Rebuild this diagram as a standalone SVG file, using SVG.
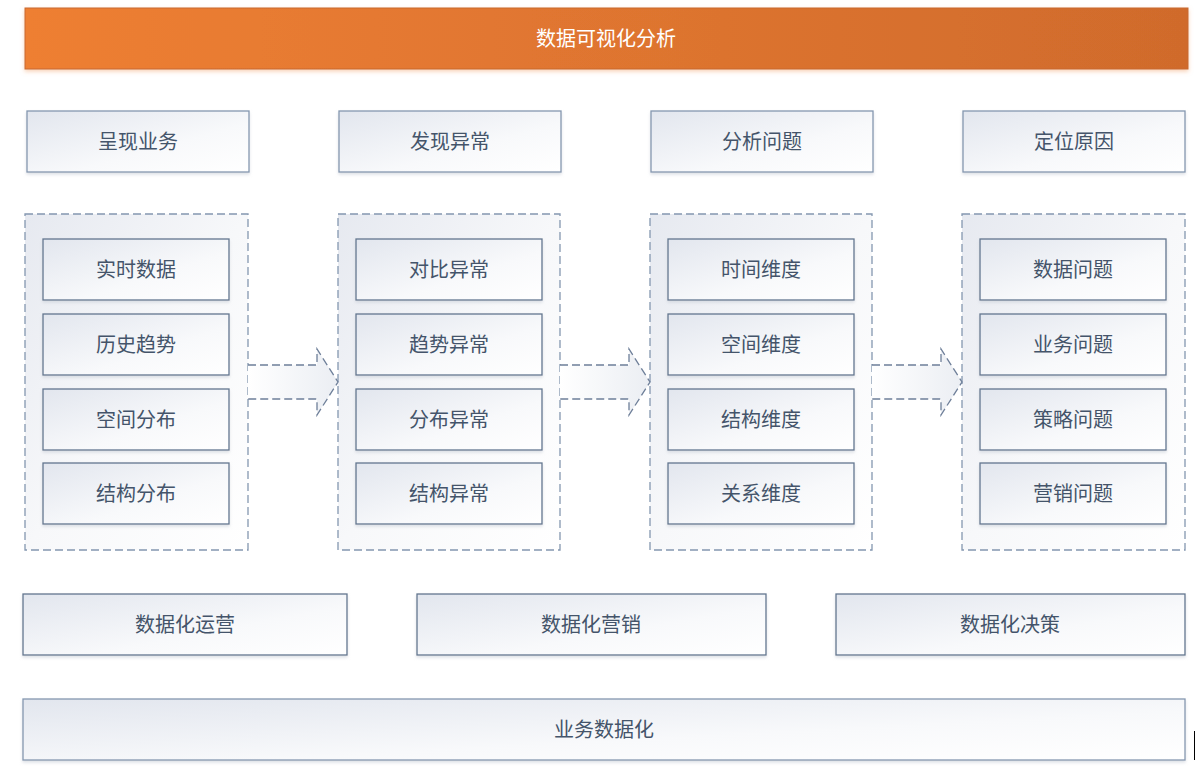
<svg xmlns="http://www.w3.org/2000/svg" width="1203" height="768" viewBox="0 0 1203 768">
  <defs>
    <linearGradient id="gTitle" x1="0" y1="0" x2="1" y2="0">
      <stop offset="0" stop-color="#EE7F33"/>
      <stop offset="1" stop-color="#D06B2C"/>
    </linearGradient>
    <linearGradient id="gBox" x1="0" y1="0" x2="1" y2="1">
      <stop offset="0" stop-color="#E2E6EE"/>
      <stop offset="0.6" stop-color="#F8F9FB"/>
      <stop offset="1" stop-color="#FFFFFF"/>
    </linearGradient>
    <linearGradient id="gGroup" x1="0" y1="0" x2="1" y2="1">
      <stop offset="0" stop-color="#E6E9F0"/>
      <stop offset="0.5" stop-color="#F7F8FA"/>
      <stop offset="1" stop-color="#FFFFFF"/>
    </linearGradient>
    <linearGradient id="gArrow" x1="0" y1="0" x2="1" y2="0">
      <stop offset="0" stop-color="#FFFFFF"/>
      <stop offset="1" stop-color="#EBEEF3"/>
    </linearGradient>
    <filter id="shadow" x="-5%" y="-20%" width="110%" height="150%">
      <feDropShadow dx="0" dy="2" stdDeviation="1.5" flood-color="#C8CDD6" flood-opacity="0.6"/>
    </filter>
    <filter id="glow" x="-2%" y="-20%" width="104%" height="160%">
      <feDropShadow dx="0" dy="2" stdDeviation="2" flood-color="#F2A36E" flood-opacity="0.5"/>
    </filter>
  </defs>
  <style>
    text { font-family: "Microsoft YaHei", "Noto Sans CJK SC", "Noto Sans", sans-serif; font-size: 20px; fill: #44546A; text-anchor: middle; dominant-baseline: central; }
    .title-text { fill: #FFFFFF; }
    .box { fill: url(#gBox); stroke: #8497B0; stroke-width: 1.3; filter: url(#shadow); }
    .inner { fill: url(#gBox); stroke: #62768F; stroke-width: 1.3; filter: url(#shadow); }
    .group { fill: url(#gGroup); stroke: #8497B0; stroke-width: 1.3; stroke-dasharray: 8 4; }
    .arrow { fill: url(#gArrow); stroke: #6E7F99; stroke-width: 1.3; stroke-dasharray: 8 4; }
  </style>

  <rect width="1203" height="768" fill="#FFFFFF"/>

  <!-- title banner -->
  <g id="title">
    <rect x="25" y="8" width="1163" height="61" fill="url(#gTitle)" stroke="#C7692E" stroke-width="1" filter="url(#glow)"/>
    <text class="title-text" x="606" y="37.5">数据可视化分析</text>
  </g>

  <!-- stage headers -->
  <g id="h1"><rect class="box" x="27" y="111" width="222" height="61"/><text x="138" y="140.5">呈现业务</text></g>
  <g id="h2"><rect class="box" x="339" y="111" width="222" height="61"/><text x="450" y="140.5">发现异常</text></g>
  <g id="h3"><rect class="box" x="651" y="111" width="222" height="61"/><text x="762" y="140.5">分析问题</text></g>
  <g id="h4"><rect class="box" x="963" y="111" width="222" height="61"/><text x="1074" y="140.5">定位原因</text></g>

  <!-- dashed groups -->
  <g id="group1"><rect class="group" x="25" y="214" width="223" height="336"/></g>
  <g id="group2"><rect class="group" x="338" y="214" width="222" height="336"/></g>
  <g id="group3"><rect class="group" x="650" y="214" width="222" height="336"/></g>
  <g id="group4"><rect class="group" x="962" y="214" width="223" height="336"/></g>

  <!-- connectors between groups -->
  <g id="connectors">
    <path class="arrow" d="M248,365 H317 V349 L338,382 L317,415 V399 H248"/>
    <path class="arrow" d="M560,365 H629 V349 L650,382 L629,415 V399 H560"/>
    <path class="arrow" d="M872,365 H941 V349 L962,382 L941,415 V399 H872"/>
  </g>

  <!-- column 1 -->
  <g id="c1a"><rect class="inner" x="43" y="239" width="186" height="61"/><text x="136" y="268.5">实时数据</text></g>
  <g id="c1b"><rect class="inner" x="43" y="314" width="186" height="61"/><text x="136" y="343.5">历史趋势</text></g>
  <g id="c1c"><rect class="inner" x="43" y="389" width="186" height="61"/><text x="136" y="418.5">空间分布</text></g>
  <g id="c1d"><rect class="inner" x="43" y="463" width="186" height="61"/><text x="136" y="492.5">结构分布</text></g>

  <!-- column 2 -->
  <g id="c2a"><rect class="inner" x="356" y="239" width="186" height="61"/><text x="449" y="268.5">对比异常</text></g>
  <g id="c2b"><rect class="inner" x="356" y="314" width="186" height="61"/><text x="449" y="343.5">趋势异常</text></g>
  <g id="c2c"><rect class="inner" x="356" y="389" width="186" height="61"/><text x="449" y="418.5">分布异常</text></g>
  <g id="c2d"><rect class="inner" x="356" y="463" width="186" height="61"/><text x="449" y="492.5">结构异常</text></g>

  <!-- column 3 -->
  <g id="c3a"><rect class="inner" x="668" y="239" width="186" height="61"/><text x="761" y="268.5">时间维度</text></g>
  <g id="c3b"><rect class="inner" x="668" y="314" width="186" height="61"/><text x="761" y="343.5">空间维度</text></g>
  <g id="c3c"><rect class="inner" x="668" y="389" width="186" height="61"/><text x="761" y="418.5">结构维度</text></g>
  <g id="c3d"><rect class="inner" x="668" y="463" width="186" height="61"/><text x="761" y="492.5">关系维度</text></g>

  <!-- column 4 -->
  <g id="c4a"><rect class="inner" x="980" y="239" width="186" height="61"/><text x="1073" y="268.5">数据问题</text></g>
  <g id="c4b"><rect class="inner" x="980" y="314" width="186" height="61"/><text x="1073" y="343.5">业务问题</text></g>
  <g id="c4c"><rect class="inner" x="980" y="389" width="186" height="61"/><text x="1073" y="418.5">策略问题</text></g>
  <g id="c4d"><rect class="inner" x="980" y="463" width="186" height="61"/><text x="1073" y="492.5">营销问题</text></g>

  <!-- outcomes -->
  <g id="o1"><rect class="inner" x="23" y="594" width="324" height="61"/><text x="185" y="623.5">数据化运营</text></g>
  <g id="o2"><rect class="inner" x="417" y="594" width="349" height="61"/><text x="591" y="623.5">数据化营销</text></g>
  <g id="o3"><rect class="inner" x="836" y="594" width="349" height="61"/><text x="1010" y="623.5">数据化决策</text></g>

  <!-- foundation -->
  <g id="base"><rect class="box" x="23" y="699" width="1162" height="61"/><text x="604" y="728.5">业务数据化</text></g>

  <!-- caret mark -->
  <line x1="1194.5" y1="731" x2="1194.5" y2="760" stroke="#000000" stroke-width="1"/>
</svg>
